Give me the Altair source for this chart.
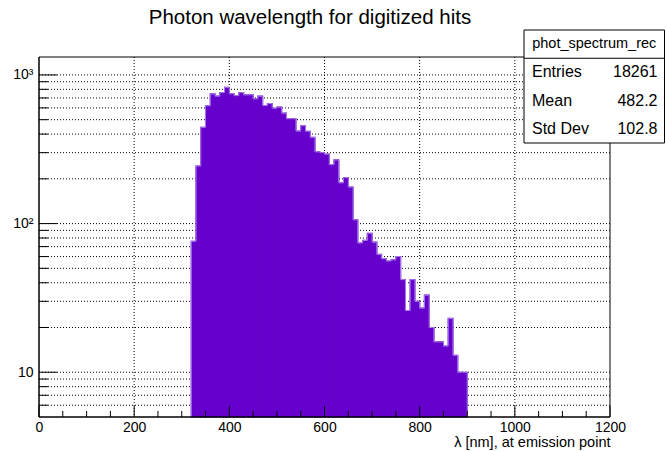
import altair as alt
import pandas as pd

# Photon wavelength histogram: 10 nm bins from 320 nm to 900 nm
bin_lo = list(range(320, 900, 10))
counts = [76, 244, 444, 620, 745, 720, 760, 824, 747, 726,
          760, 734, 735, 690, 720, 623, 642, 597, 607, 553,
          508, 508, 419, 455, 418, 380, 304, 300, 293, 249,
          268, 188, 204, 176, 106, 74, 77, 86, 75, 62,
          58, 56, 57, 60, 42, 26, 42, 30, 27, 33,
          20, 16, 16, 15, 23, 13, 10, 10]
bin_width = 10

# Statistics box contents
stats_name = "phot_spectrum_rec"
stat_labels = ["Entries", "Mean", "Std Dev"]
stat_values = ["18261", "482.2", "102.8"]

# Axis ticks
x_major = [0, 200, 400, 600, 800, 1000, 1200]
x_minor = [v for v in range(0, 1201, 50) if v % 200 != 0]
x_grid = [200, 400, 600, 800, 1000]
y_major = [10, 100, 1000]
y_minor = [6, 7, 8, 9] + list(range(20, 100, 10)) + list(range(200, 1000, 100))

W, H = 571, 360
FONT = "Liberation Sans"
FILL = "#6600cc"

xs = alt.Scale(domain=[0, 1200], nice=False, zero=False)
ys = alt.Scale(type="log", domain=[5, 1320], nice=False)

hist = pd.DataFrame({
    "lo": bin_lo,
    "hi": [b + bin_width for b in bin_lo],
    "count": counts,
})

# stepped outline of the histogram, closed down to the axis at both ends
ymin = 5
last_hi = bin_lo[-1] + bin_width
outline = pd.DataFrame({
    "x": [bin_lo[0]] + bin_lo + [last_hi, last_hi],
    "y": [ymin] + counts + [counts[-1], ymin],
})
outline["i"] = range(len(outline))

one = pd.DataFrame({"k": [0]})

grid_x = alt.Chart(pd.DataFrame({"v": x_grid})).mark_rule(
    color="#000000", strokeDash=[1, 2], strokeWidth=1
).encode(x=alt.X("v:Q", scale=xs, axis=None), y=alt.value(0), y2=alt.value(H))

grid_y = alt.Chart(pd.DataFrame({"v": y_major + y_minor})).mark_rule(
    color="#000000", strokeDash=[1, 2], strokeWidth=1
).encode(y=alt.Y("v:Q", scale=ys, axis=None), x=alt.value(0), x2=alt.value(W))

# filled bins; a same-colour stroke closes the hairline seams between neighbours
bars = alt.Chart(hist).mark_rect(fill=FILL, stroke=FILL, strokeWidth=1.2).encode(
    x=alt.X("lo:Q", scale=xs, axis=alt.Axis(
        values=x_major, format="d", ticks=False, tickSize=0, domain=False, grid=False,
        labelFont=FONT, labelFontSize=14, labelColor="#000000", labelPadding=3,
        labelFlush=False, labelOverlap=False,
        title="λ [nm], at emission point", titleFont=FONT, titleFontSize=14.5,
        titleFontWeight="normal", titleColor="#000000", titleAnchor="end",
        titleAlign="right", titleBaseline="alphabetic", titleX=W, titleY=29,
    )),
    x2="hi:Q",
    y=alt.Y("count:Q", scale=ys, axis=alt.Axis(
        values=y_major, ticks=False, tickSize=0, domain=False, grid=False,
        labelExpr="datum.value >= 1000 ? '10³' : datum.value >= 100 ? '10²' : '10'",
        labelFont=FONT, labelFontSize=14, labelColor="#000000", labelPadding=6,
        labelFlush=False, labelOverlap=False, title="",
    )),
    y2=alt.value(H),
)

edge = alt.Chart(outline).mark_line(
    interpolate="step-after", color="#a77ee8", strokeWidth=1
).encode(
    x=alt.X("x:Q", scale=xs, axis=None),
    y=alt.Y("y:Q", scale=ys, axis=None),
    order=alt.Order("i:Q"),
)

tick_x_major = alt.Chart(pd.DataFrame({"v": x_major})).mark_rule(color="#000000").encode(
    x=alt.X("v:Q", scale=xs, axis=None), y=alt.value(H), y2=alt.value(H - 11))
tick_x_minor = alt.Chart(pd.DataFrame({"v": x_minor})).mark_rule(color="#000000").encode(
    x=alt.X("v:Q", scale=xs, axis=None), y=alt.value(H), y2=alt.value(H - 6))
tick_y_major = alt.Chart(pd.DataFrame({"v": y_major})).mark_rule(color="#000000").encode(
    y=alt.Y("v:Q", scale=ys, axis=None), x=alt.value(0), x2=alt.value(18))
tick_y_minor = alt.Chart(pd.DataFrame({"v": y_minor})).mark_rule(color="#000000").encode(
    y=alt.Y("v:Q", scale=ys, axis=None), x=alt.value(0), x2=alt.value(9))

# plot frame
frame_top = alt.Chart(one).mark_rule(color="#000000", strokeWidth=1).encode(
    x=alt.value(0), x2=alt.value(W), y=alt.value(0))
frame_right = alt.Chart(one).mark_rule(color="#000000", strokeWidth=1).encode(
    x=alt.value(W), y=alt.value(0), y2=alt.value(H))
frame_left = alt.Chart(one).mark_rule(color="#000000", strokeWidth=1.5).encode(
    x=alt.value(0), y=alt.value(0), y2=alt.value(H))
frame_bottom = alt.Chart(one).mark_rule(color="#000000", strokeWidth=1.5).encode(
    x=alt.value(0), x2=alt.value(W), y=alt.value(H))

# statistics box
bx0, bx1, by0, by1 = 485, 625.5, -27, 86
row_h = (by1 - by0) / 4
box = alt.Chart(one).mark_rect(fill="#ffffff", stroke="#000000", strokeWidth=1).encode(
    x=alt.value(bx0), x2=alt.value(bx1), y=alt.value(by0), y2=alt.value(by1))
box_sep = alt.Chart(one).mark_rule(color="#000000", strokeWidth=1).encode(
    x=alt.value(bx0), x2=alt.value(bx1), y=alt.value(by0 + row_h))
box_title = alt.Chart(one).mark_text(
    text=stats_name, font=FONT, fontSize=14.5, color="#000000", align="center", baseline="middle"
).encode(x=alt.value((bx0 + bx1) / 2), y=alt.value(by0 + row_h / 2))

stat_layers = []
for i, (lab, val) in enumerate(zip(stat_labels, stat_values)):
    yc = by0 + row_h * (i + 1.5)
    stat_layers.append(alt.Chart(one).mark_text(
        text=lab, font=FONT, fontSize=16, color="#000000", align="left", baseline="middle"
    ).encode(x=alt.value(bx0 + 8), y=alt.value(yc)))
    stat_layers.append(alt.Chart(one).mark_text(
        text=val, font=FONT, fontSize=16, color="#000000", align="right", baseline="middle"
    ).encode(x=alt.value(bx1 - 7), y=alt.value(yc)))

title = alt.Chart(one).mark_text(
    text="Photon wavelength for digitized hits", font=FONT, fontSize=20.5,
    color="#000000", align="center", baseline="alphabetic"
).encode(x=alt.value(271), y=alt.value(-33))

chart = alt.layer(
    grid_x, grid_y, bars, edge,
    tick_x_major, tick_x_minor, tick_y_major, tick_y_minor,
    frame_top, frame_right, frame_left, frame_bottom,
    box, box_sep, box_title, *stat_layers, title,
).resolve_axis(
    x="independent", y="independent"
).properties(
    width=W, height=H,
    autosize=alt.AutoSizeParams(type="none"),
    padding={"left": 39, "top": 57, "right": 56, "bottom": 34},
    background="#ffffff",
).configure_view(stroke=None)

chart.save("out.html", embed_options={"renderer": "svg", "actions": False})
